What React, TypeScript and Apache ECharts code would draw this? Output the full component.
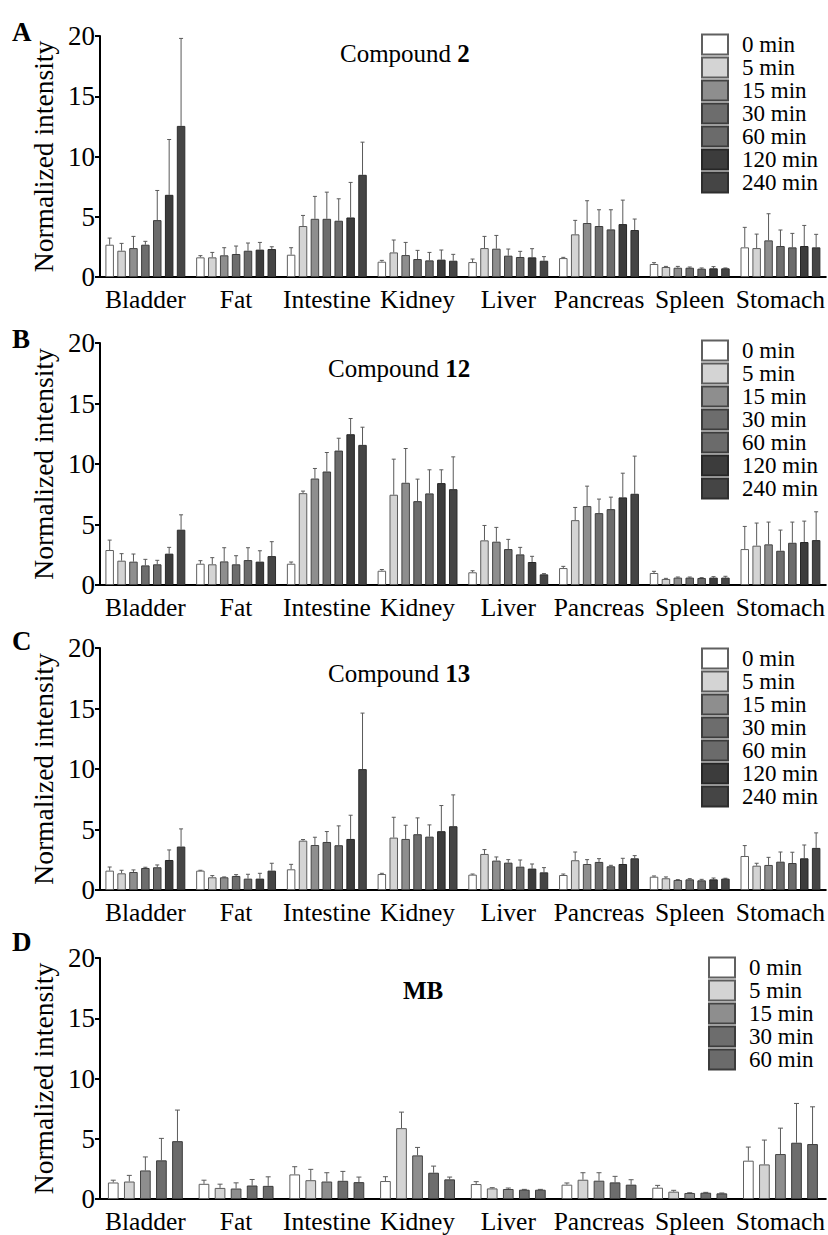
import React, { useEffect, useRef } from "react";
import * as echarts from "echarts";

const organs = ["Bladder", "Fat", "Intestine", "Kidney", "Liver", "Pancreas", "Spleen", "Stomach"];
const timesLong = ["0 min", "5 min", "15 min", "30 min", "60 min", "120 min", "240 min"];
const timesMB = ["0 min", "5 min", "15 min", "30 min", "60 min"];
const yTickValues = [0, 5, 10, 15, 20];

// Compound 2 (rows = time points, columns = organs)
const compound2Mean = [
  [2.68, 1.63, 1.85, 1.27, 1.24, 1.57, 1.08, 2.46],
  [2.18, 1.63, 4.23, 2.04, 2.40, 3.54, 0.83, 2.40],
  [2.40, 1.80, 4.83, 1.82, 2.35, 4.48, 0.77, 3.04],
  [2.68, 1.91, 4.83, 1.49, 1.77, 4.23, 0.77, 2.57],
  [4.72, 2.18, 4.67, 1.38, 1.66, 3.95, 0.69, 2.46],
  [6.82, 2.27, 4.94, 1.44, 1.63, 4.39, 0.72, 2.57],
  [12.54, 2.32, 8.48, 1.35, 1.35, 3.90, 0.72, 2.46],
];
const compound2Sd = [
  [0.55, 0.14, 0.58, 0.11, 0.25, 0.06, 0.11, 1.66],
  [0.61, 0.41, 0.88, 1.03, 0.97, 1.16, 0.05, 1.16],
  [0.97, 0.63, 1.86, 1.05, 1.10, 1.85, 0.11, 2.21],
  [0.28, 0.66, 2.21, 0.72, 0.55, 1.35, 0.06, 1.33],
  [2.46, 0.64, 1.82, 0.66, 0.47, 1.63, 0.06, 1.16],
  [4.59, 0.60, 2.91, 0.80, 0.72, 1.99, 0.14, 1.71],
  [7.26, 0.19, 2.71, 0.53, 0.34, 0.91, 0.03, 1.08],
];

// Compound 12
const compound12Mean = [
  [2.89, 1.76, 1.76, 1.18, 1.05, 1.40, 0.99, 2.97],
  [2.01, 1.71, 7.59, 7.46, 3.69, 5.36, 0.50, 3.25],
  [1.93, 1.95, 8.80, 8.45, 3.58, 6.52, 0.61, 3.36],
  [1.62, 1.71, 9.38, 6.93, 2.97, 5.94, 0.61, 2.83],
  [1.71, 2.06, 11.11, 7.57, 2.53, 6.27, 0.58, 3.49],
  [2.59, 1.93, 12.46, 8.42, 1.90, 7.24, 0.61, 3.55],
  [4.57, 2.39, 11.58, 7.92, 0.88, 7.54, 0.61, 3.71],
];
const compound12Sd = [
  [0.82, 0.25, 0.14, 0.10, 0.13, 0.14, 0.14, 1.87],
  [0.58, 0.55, 0.17, 2.94, 1.23, 1.05, 0.05, 1.87],
  [0.63, 1.13, 0.83, 2.83, 1.18, 1.65, 0.05, 1.84],
  [0.50, 0.71, 1.57, 1.82, 0.80, 1.16, 0.05, 1.71],
  [0.33, 1.02, 1.02, 1.95, 0.58, 0.99, 0.03, 1.71],
  [0.52, 0.90, 1.30, 1.10, 0.47, 2.00, 0.08, 1.73],
  [1.23, 1.19, 1.46, 2.67, 0.06, 3.11, 0.11, 2.34],
];

// Compound 13
const compound13Mean = [
  [1.60, 1.60, 1.71, 1.32, 1.27, 1.24, 1.10, 2.81],
  [1.38, 1.05, 4.08, 4.33, 2.98, 2.46, 0.97, 2.01],
  [1.49, 1.05, 3.72, 4.22, 2.43, 2.15, 0.83, 2.07],
  [1.82, 1.16, 3.97, 4.61, 2.26, 2.32, 0.88, 2.34],
  [1.88, 0.94, 3.70, 4.41, 1.93, 1.96, 0.80, 2.23],
  [2.48, 0.94, 4.22, 4.86, 1.77, 2.15, 0.88, 2.62],
  [3.59, 1.60, 9.99, 5.27, 1.46, 2.62, 0.94, 3.48],
];
const compound13Sd = [
  [0.30, 0.03, 0.41, 0.06, 0.05, 0.08, 0.06, 0.86],
  [0.25, 0.14, 0.09, 1.68, 0.36, 0.68, 0.11, 0.20],
  [0.17, 0.03, 0.64, 1.13, 0.30, 0.36, 0.03, 0.63],
  [0.06, 0.11, 0.86, 1.35, 0.25, 0.27, 0.06, 0.80],
  [0.19, 0.36, 1.60, 0.97, 0.55, 0.08, 0.08, 0.89],
  [0.83, 0.44, 1.96, 2.12, 0.38, 0.47, 0.11, 1.10],
  [1.46, 0.61, 4.63, 2.59, 0.39, 0.22, 0.03, 1.24],
];

// MB
const mbMean = [
  [1.37, 1.26, 2.04, 1.49, 1.24, 1.19, 0.94, 3.18],
  [1.45, 0.92, 1.56, 5.88, 0.88, 1.60, 0.61, 2.87],
  [2.37, 0.87, 1.45, 3.62, 0.83, 1.52, 0.50, 3.73],
  [3.21, 1.12, 1.51, 2.18, 0.77, 1.38, 0.52, 4.67],
  [4.80, 1.09, 1.40, 1.63, 0.77, 1.19, 0.47, 4.56],
];
const mbSd = [
  [0.19, 0.30, 0.64, 0.36, 0.20, 0.14, 0.19, 1.13],
  [0.51, 0.31, 0.90, 1.33, 0.06, 0.58, 0.11, 2.02],
  [1.12, 0.47, 0.73, 0.66, 0.08, 0.66, 0.02, 2.15],
  [1.82, 0.50, 0.78, 0.55, 0.03, 0.50, 0.03, 3.26],
  [2.58, 0.75, 0.42, 0.19, 0.03, 0.41, 0.03, 3.09],
];

const fills = ["#ffffff", "#d4d4d4", "#8e8e8e", "#6d6d6d", "#6b6b6b", "#3c3c3c", "#454545"];
const borders = ["#606060", "#5c5c5c", "#444444", "#3c3c3c", "#3c3c3c", "#262626", "#2e2e2e"];

const FONT = "Liberation Serif";

type Panel = {
  letter: string;
  titleNormal: string;
  titleBold: string;
  mean: number[][];
  sd: number[][];
  times: string[];
  top: number;
  height: number;
  barWidth: number;
  barGap: number;
  cap: number;
  legendLeft: number;
  legendTop: number;
  titleLeft: number;
  titleTop: number;
  letterTop: number;
};

const panels: Panel[] = [
  { letter: "A", titleNormal: "Compound ", titleBold: "2", mean: compound2Mean, sd: compound2Sd, times: timesLong,
    top: 36, height: 241, barWidth: 8.5, barGap: 0.4, cap: 4, legendLeft: 701, legendTop: 33, titleLeft: 340, titleTop: 41, letterTop: 18 },
  { letter: "B", titleNormal: "Compound ", titleBold: "12", mean: compound12Mean, sd: compound12Sd, times: timesLong,
    top: 343, height: 242, barWidth: 8.5, barGap: 0.4, cap: 4, legendLeft: 701, legendTop: 339, titleLeft: 328, titleTop: 356, letterTop: 325 },
  { letter: "C", titleNormal: "Compound ", titleBold: "13", mean: compound13Mean, sd: compound13Sd, times: timesLong,
    top: 648, height: 242, barWidth: 8.5, barGap: 0.4, cap: 4, legendLeft: 701, legendTop: 647, titleLeft: 328, titleTop: 661, letterTop: 627 },
  { letter: "D", titleNormal: "", titleBold: "MB", mean: mbMean, sd: mbSd, times: timesMB,
    top: 958, height: 241, barWidth: 10.7, barGap: 0.5, cap: 5, legendLeft: 708, legendTop: 956, titleLeft: 403, titleTop: 978, letterTop: 928 },
];

function buildOption() {
  const grid: any[] = [];
  const xAxis: any[] = [];
  const yAxis: any[] = [];
  const series: any[] = [];
  const legend: any[] = [];
  const title: any[] = [];

  panels.forEach((p, pi) => {
    grid.push({ left: 100, width: 727, top: p.top, height: p.height, containLabel: false });
    xAxis.push({
      type: "category",
      gridIndex: pi,
      data: organs,
      boundaryGap: true,
      axisLine: { lineStyle: { color: "#000", width: 2 } },
      axisTick: { alignWithLabel: true, length: 5, lineStyle: { color: "#000", width: 2 } },
      axisLabel: { color: "#000", fontFamily: FONT, fontSize: 25.5, margin: 9, interval: 0 },
    });
    yAxis.push({
      type: "value",
      gridIndex: pi,
      min: 0,
      max: 20,
      interval: 5,
      name: "Normalized intensity",
      nameLocation: "middle",
      nameGap: 37,
      nameTextStyle: { color: "#000", fontFamily: FONT, fontSize: 27.5 },
      axisLine: { show: true, lineStyle: { color: "#000", width: 2 } },
      axisTick: { show: true, length: 5, lineStyle: { color: "#000", width: 2 } },
      axisLabel: { color: "#000", fontFamily: FONT, fontSize: 27, margin: 5,
        formatter: (v: number) => (yTickValues.includes(v) ? String(v) : "") },
      splitLine: { show: false },
    });

    const n = p.times.length;
    const pitch = p.barWidth * (1 + p.barGap);
    p.times.forEach((t, ti) => {
      series.push({
        type: "bar",
        name: t,
        xAxisIndex: pi,
        yAxisIndex: pi,
        data: p.mean[ti],
        barWidth: p.barWidth,
        barGap: `${p.barGap * 100}%`,
        itemStyle: { color: fills[ti], borderColor: borders[ti], borderWidth: 1 },
        silent: true,
        z: 3,
      });
    });
    p.times.forEach((t, ti) => {
      const offset = (ti - (n - 1) / 2) * pitch;
      const cap = p.cap;
      series.push({
        type: "custom",
        name: `err-${p.letter}-${t}`,
        xAxisIndex: pi,
        yAxisIndex: pi,
        silent: true,
        z: 2,
        data: organs.map((_, oi) => [oi, p.mean[ti][oi], p.sd[ti][oi]]),
        encode: { x: 0, y: 1 },
        renderItem: (params: any, api: any) => {
          const base = api.coord([api.value(0), api.value(1)]);
          const tip = api.coord([api.value(0), api.value(1) + api.value(2)]);
          const x = base[0] + offset;
          const style = { stroke: "#5a5a5a", lineWidth: 1 };
          return {
            type: "group",
            children: [
              { type: "line", shape: { x1: x, y1: base[1], x2: x, y2: tip[1] }, style },
              { type: "line", shape: { x1: x - cap / 2, y1: tip[1], x2: x + cap / 2, y2: tip[1] }, style },
            ],
          };
        },
      });
    });

    legend.push({
      orient: "vertical",
      left: p.legendLeft,
      top: p.legendTop,
      itemWidth: 26,
      itemHeight: 20,
      itemGap: 0,
      icon: "rect",
      selectedMode: false,
      padding: 0,
      data: p.times,
      textStyle: { color: "#000", fontFamily: FONT, fontSize: 23, lineHeight: 23, padding: [0, 0, 0, 9] },
    });

    title.push({
      text: p.titleNormal ? `{n|${p.titleNormal}}{b|${p.titleBold}}` : `{b|${p.titleBold}}`,
      left: p.titleLeft,
      top: p.titleTop,
      padding: 0,
      textStyle: {
        fontFamily: FONT,
        fontWeight: "normal",
        rich: {
          n: { fontFamily: FONT, fontSize: 25, color: "#000", fontWeight: "normal", lineHeight: 25 },
          b: { fontFamily: FONT, fontSize: 25, color: "#000", fontWeight: "bold", lineHeight: 25 },
        },
      },
    });
    title.push({
      text: p.letter,
      left: 12,
      top: p.letterTop,
      padding: 0,
      textStyle: { fontFamily: FONT, fontSize: 27, fontWeight: "bold", color: "#000", lineHeight: 27 },
    });
  });

  return {
    animation: false,
    backgroundColor: "#ffffff",
    textStyle: { fontFamily: FONT },
    grid,
    xAxis,
    yAxis,
    series,
    legend,
    title,
  };
}

export default function App() {
  const ref = useRef<HTMLDivElement>(null);
  useEffect(() => {
    document.body.style.margin = "0";
    if (!ref.current) return;
    const chart = echarts.init(ref.current, undefined, { renderer: "svg" });
    chart.setOption(buildOption() as any);
    return () => chart.dispose();
  }, []);
  return <div ref={ref} style={{ width: 828, height: 1235, background: "#fff" }} />;
}
